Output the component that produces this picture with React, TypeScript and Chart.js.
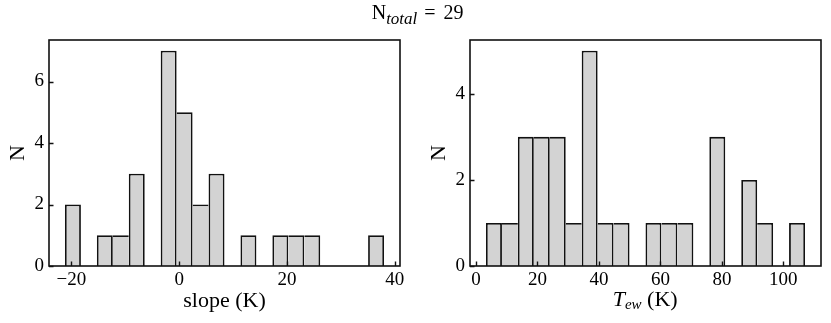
import React, { useEffect, useRef } from "react";
import { Chart, registerables } from "chart.js";

Chart.register(...registerables);

// ---- Left panel: slope histogram ----
const slopeBinCenters = [
  -19.72, -16.76, -13.8, -10.84, -7.88, -4.92, -1.96, 1.0, 3.96, 6.92,
  9.88, 12.84, 15.8, 18.76, 21.72, 24.68, 27.64, 30.6, 33.56, 36.52,
];
const slopeCounts = [2, 0, 1, 1, 3, 0, 7, 5, 2, 3, 0, 1, 0, 1, 1, 1, 0, 0, 0, 1];
const slopeXTicks = [-20, 0, 20, 40];
const slopeXRange = [-24.16, 40.96];
const slopeYTicks = [0, 2, 4, 6];
const slopeYMax = 7.35;

// ---- Right panel: T_ew histogram ----
const tewBinCenters = [
  5.845, 11.035, 16.225, 21.415, 26.605, 31.795, 36.985, 42.175, 47.365, 52.555,
  57.745, 62.935, 68.125, 73.315, 78.505, 83.695, 88.885, 94.075, 99.265, 104.455,
];
const tewCounts = [1, 1, 3, 3, 3, 1, 5, 1, 1, 0, 1, 1, 1, 0, 3, 0, 2, 1, 0, 1];
const tewXTicks = [0, 20, 40, 60, 80, 100];
const tewXRange = [-1.94, 112.24];
const tewYTicks = [0, 2, 4];
const tewYMax = 5.25;

const nTotal = 29;

const SERIF = "'Liberation Serif', 'Times New Roman', Times, serif";
const EDGE = "#111";
const FILL = "#d3d3d3";
const INK = "#000";
const W = 831;
const H = 323;
const BW = 1.8;

Chart.defaults.font.family = SERIF;

const frameAndTicks = {
  id: "frameAndTicks",
  afterDatasetsDraw(chart: any) {
    const { ctx, chartArea: a, scales } = chart;
    const xs = scales.x;
    const ys = scales.y;
    ctx.save();
    ctx.strokeStyle = EDGE;
    ctx.lineWidth = 1.4;
    ctx.beginPath();
    for (const t of xs.ticks) {
      const px = Math.round(xs.getPixelForValue(t.value)) + 0.5;
      ctx.moveTo(px, a.bottom);
      ctx.lineTo(px, a.bottom - 4.5);
    }
    for (const t of ys.ticks) {
      const py = Math.round(ys.getPixelForValue(t.value)) + 0.5;
      ctx.moveTo(a.left, py);
      ctx.lineTo(a.left + 4.5, py);
    }
    ctx.stroke();
    ctx.lineWidth = 1.6;
    ctx.strokeRect(a.left, a.top, a.right - a.left, a.bottom - a.top);
    ctx.restore();
  },
};

const fmt = (v: number) => (v < 0 ? "\u2212" + Math.abs(v) : String(v));

function makeConfig(p: {
  centers: number[];
  counts: number[];
  xTicks: number[];
  xRange: number[];
  yTicks: number[];
  yMax: number;
  yWidth: number;
  xHeight: number;
  padding: any;
  xTitle: string | null;
  yTitlePad: number;
}): any {
  const data = p.centers.map((c, i) => ({ x: c, y: p.counts[i] }));
  return {
    type: "bar",
    data: {
      datasets: [
        {
          data,
          backgroundColor: FILL,
          borderColor: EDGE,
          borderSkipped: false,
          inflateAmount: 0,
          barPercentage: 1,
          categoryPercentage: 1,
          borderWidth: (ctx: any) => {
            const i = ctx.dataIndex;
            const c = p.counts[i];
            if (!c) return 0;
            const prev = i > 0 ? p.counts[i - 1] : 0;
            const next = i + 1 < p.counts.length ? p.counts[i + 1] : 0;
            return {
              top: BW,
              left: prev < c ? BW : 0,
              right: next <= c ? BW : 0,
              bottom: 0,
            };
          },
        },
      ],
    },
    options: {
      responsive: false,
      animation: false,
      devicePixelRatio: 1,
      layout: { padding: p.padding },
      plugins: {
        legend: { display: false },
        tooltip: { enabled: false },
        title: { display: false },
      },
      scales: {
        x: {
          type: "linear",
          offset: false,
          min: p.xRange[0],
          max: p.xRange[1],
          grid: { display: false, drawTicks: false },
          border: { display: false },
          afterBuildTicks: (s: any) => {
            s.ticks = p.xTicks.map((v) => ({ value: v }));
          },
          afterFit: (s: any) => {
            s.height = p.xHeight;
          },
          ticks: {
            autoSkip: false,
            maxRotation: 0,
            padding: 3,
            color: INK,
            font: { family: SERIF, size: 19 },
            callback: (v: any) => fmt(Number(v)),
          },
          title: {
            display: !!p.xTitle,
            text: p.xTitle || "",
            color: INK,
            font: { family: SERIF, size: 22, lineHeight: 1.2 },
            padding: { top: 0, bottom: 8.4 },
          },
        },
        y: {
          type: "linear",
          min: 0,
          max: p.yMax,
          grid: { display: false, drawTicks: false },
          border: { display: false },
          afterBuildTicks: (s: any) => {
            s.ticks = p.yTicks.map((v) => ({ value: v }));
          },
          afterFit: (s: any) => {
            s.width = p.yWidth;
          },
          ticks: {
            autoSkip: false,
            padding: 5,
            color: INK,
            font: { family: SERIF, size: 19 },
            callback: (v: any) => fmt(Number(v)),
          },
          title: {
            display: true,
            text: "N",
            color: INK,
            font: { family: SERIF, size: 22, lineHeight: 1.2 },
            padding: { top: p.yTitlePad, bottom: 0 },
          },
        },
      },
    },
    plugins: [frameAndTicks],
  };
}

function Panel(props: { left: number; width: number; config: any }) {
  const ref = useRef<HTMLCanvasElement | null>(null);
  useEffect(() => {
    if (!ref.current) return;
    const chart = new Chart(ref.current, props.config);
    return () => chart.destroy();
  }, []);
  return (
    <canvas
      ref={ref}
      width={props.width}
      height={H}
      style={{ position: "absolute", left: props.left, top: 0, width: props.width, height: H }}
    />
  );
}

export default function App() {
  const leftCfg = makeConfig({
    centers: slopeBinCenters,
    counts: slopeCounts,
    xTicks: slopeXTicks,
    xRange: slopeXRange,
    yTicks: slopeYTicks,
    yMax: slopeYMax,
    yWidth: 49,
    xHeight: 57,
    padding: { left: 0, top: 40, right: 15, bottom: 0 },
    xTitle: "slope (K)",
    yTitlePad: 4.6,
  });
  const rightCfg = makeConfig({
    centers: tewBinCenters,
    counts: tewCounts,
    xTicks: tewXTicks,
    xRange: tewXRange,
    yTicks: tewYTicks,
    yMax: tewYMax,
    yWidth: 55,
    xHeight: 57,
    padding: { left: 0, top: 40, right: 10, bottom: 0 },
    xTitle: null,
    yTitlePad: 11,
  });
  return (
    <div
      style={{
        position: "absolute",
        left: 0,
        top: 0,
        width: W,
        height: H,
        background: "#fff",
        overflow: "hidden",
        fontFamily: SERIF,
        color: INK,
      }}
    >
      <Panel left={0} width={415} config={leftCfg} />
      <Panel left={415} width={416} config={rightCfg} />
      <div
        style={{
          position: "absolute",
          left: 371.7,
          top: 1.5,
          fontSize: 20,
          lineHeight: "20px",
          whiteSpace: "nowrap",
        }}
      >
        N<i style={{ fontSize: 17, position: "relative", top: 5 }}>total</i>
        <span style={{ margin: "0 8px 0 7px" }}>=</span>
        {nTotal}
      </div>
      <div
        style={{
          position: "absolute",
          left: 612.7,
          top: 287.6,
          fontSize: 22,
          lineHeight: "22px",
          whiteSpace: "nowrap",
        }}
      >
        <i>T</i>
        <i style={{ fontSize: 15, position: "relative", top: 3 }}>ew</i> (K)
      </div>
    </div>
  );
}
